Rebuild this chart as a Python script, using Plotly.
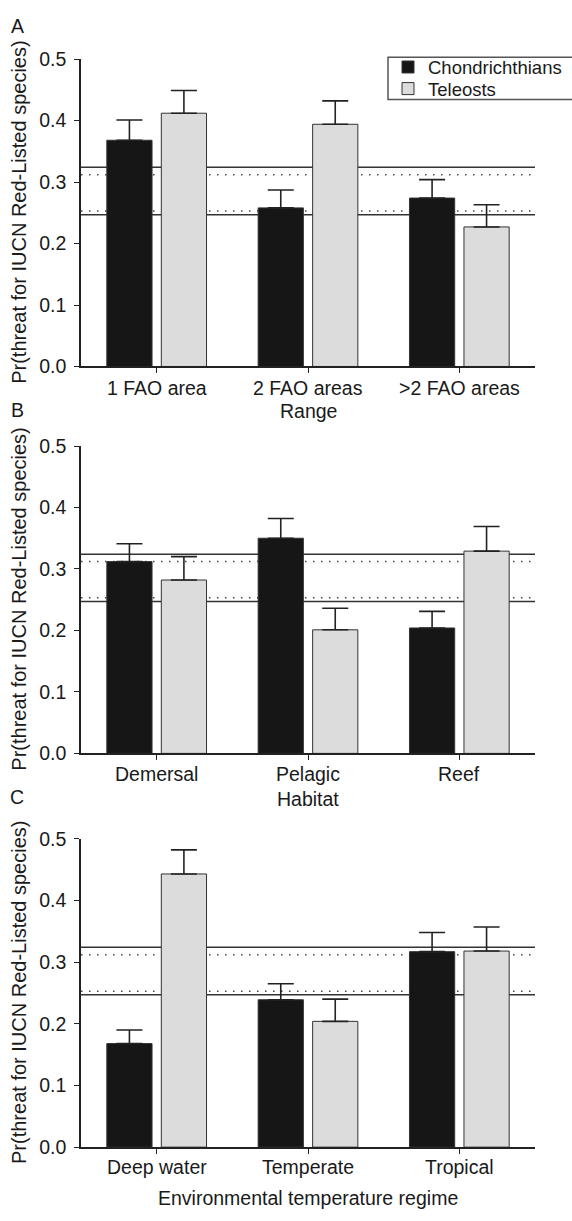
import plotly.graph_objects as go

# ---------------- data ----------------
range_cats = ["1 FAO area", "2 FAO areas", ">2 FAO areas"]
range_chond = [0.368, 0.258, 0.274]
range_chond_up = [0.401, 0.287, 0.304]
range_tele = [0.412, 0.394, 0.227]
range_tele_up = [0.449, 0.432, 0.263]

habitat_cats = ["Demersal", "Pelagic", "Reef"]
habitat_chond = [0.312, 0.350, 0.204]
habitat_chond_up = [0.341, 0.382, 0.231]
habitat_tele = [0.282, 0.201, 0.329]
habitat_tele_up = [0.320, 0.236, 0.369]

temp_cats = ["Deep water", "Temperate", "Tropical"]
temp_chond = [0.168, 0.239, 0.317]
temp_chond_up = [0.190, 0.265, 0.348]
temp_tele = [0.443, 0.204, 0.318]
temp_tele_up = [0.482, 0.240, 0.357]

ref_solid = [0.324, 0.247]
ref_dotted = [0.312, 0.253]

panel_letters = ["A", "B", "C"]
x_titles = ["Range", "Habitat", "Environmental temperature regime"]
y_title = "Pr(threat for IUCN Red-Listed species)"
y_ticks = [0.0, 0.1, 0.2, 0.3, 0.4, 0.5]
series_names = ["Chondrichthians", "Teleosts"]

# ---------------- layout constants ----------------
W, H = 572, 1221
FONT = "Liberation Sans, Arial, Helvetica, sans-serif"
FS = 19.5
TXT = "#1a1a1a"
BLACK_FILL = "#161616"
GRAY_FILL = "#dcdcdc"
EDGE = "#333333"

def px_x(x):
    return x / W

def px_y(y):
    return 1 - y / H

x_dom = [px_x(81), px_x(535)]
panel_px = [(49, 362), (443, 756), (843, 1157)]
tick_label_y = [384, 777, 1177]
title_y = [407.5, 802, 1209]
letter_y = [15, 406, 800]

panels = [
    (range_cats, range_chond, range_chond_up, range_tele, range_tele_up),
    (habitat_cats, habitat_chond, habitat_chond_up, habitat_tele, habitat_tele_up),
    (temp_cats, temp_chond, temp_chond_up, temp_tele, temp_tele_up),
]

fig = go.Figure()
layout_axes = {}
shapes = []
annotations = []

for i, (cats, ch, ch_up, te, te_up) in enumerate(panels):
    n = "" if i == 0 else str(i + 1)
    xa, ya = "x" + n, "y" + n
    fig.add_trace(go.Bar(
        x=cats, y=ch, name=series_names[0], xaxis=xa, yaxis=ya,
        marker=dict(color=BLACK_FILL, line=dict(color=EDGE, width=1)),
        error_y=dict(type="data", symmetric=False,
                     array=[u - v for u, v in zip(ch_up, ch)],
                     arrayminus=[0] * len(ch),
                     color="#222222", thickness=1.6, width=13),
        showlegend=(i == 0), legend="legend", offsetgroup="c",
    ))
    fig.add_trace(go.Bar(
        x=cats, y=te, name=series_names[1], xaxis=xa, yaxis=ya,
        marker=dict(color=GRAY_FILL, line=dict(color=EDGE, width=1)),
        error_y=dict(type="data", symmetric=False,
                     array=[u - v for u, v in zip(te_up, te)],
                     arrayminus=[0] * len(te),
                     color="#222222", thickness=1.6, width=13),
        showlegend=(i == 0), legend="legend2", offsetgroup="t",
    ))

    top, bot = panel_px[i]
    layout_axes["xaxis" + n] = dict(
        domain=x_dom, anchor=ya, type="category", range=[-0.5, 2.5],
        showline=True, linecolor="#222222", linewidth=1.5,
        ticks="outside", ticklen=5, tickwidth=1.2, tickcolor="#222222",
        showgrid=False, zeroline=False, showticklabels=False,
        fixedrange=True,
    )
    layout_axes["yaxis" + n] = dict(
        domain=[px_y(bot), px_y(top)], anchor=xa, range=[0, 0.5],
        tickvals=y_ticks, ticktext=["%.1f" % v for v in y_ticks],
        showline=True, linecolor="#222222", linewidth=1.5,
        ticks="outside", ticklen=5, tickwidth=1.2, tickcolor="#222222",
        ticklabelstandoff=4,
        showgrid=False, zeroline=False,
        tickfont=dict(family=FONT, size=FS, color=TXT),
        fixedrange=True,
    )

    # reference band lines behind the bars
    for v in ref_solid:
        shapes.append(dict(type="line", xref=xa + " domain", yref=ya,
                           x0=0, x1=1, y0=v, y1=v, layer="below",
                           line=dict(color="#333333", width=1.5)))
    for v in ref_dotted:
        shapes.append(dict(type="line", xref=xa + " domain", yref=ya,
                           x0=0, x1=1, y0=v, y1=v, layer="below",
                           line=dict(color="#444444", width=1.5, dash="1.5px,6.5px")))

    # category tick labels
    for k, c in enumerate(cats):
        annotations.append(dict(
            x=k, y=px_y(tick_label_y[i]), xref=xa, yref="paper",
            text=c, showarrow=False, xanchor="center", yanchor="middle",
            font=dict(family=FONT, size=FS, color=TXT)))

    # x title
    annotations.append(dict(
        x=(x_dom[0] + x_dom[1]) / 2, y=px_y(title_y[i]), xref="paper", yref="paper",
        text=x_titles[i], showarrow=False, xanchor="center", yanchor="middle",
        font=dict(family=FONT, size=FS, color=TXT)))

    # y title
    annotations.append(dict(
        x=px_x(19), y=px_y((top + bot) / 2), xref="paper", yref="paper",
        text=y_title, textangle=-90, showarrow=False,
        xanchor="center", yanchor="middle",
        font=dict(family=FONT, size=20, color=TXT)))

    # panel letter
    annotations.append(dict(
        x=px_x(17), y=px_y(letter_y[i]), xref="paper", yref="paper",
        text=panel_letters[i], showarrow=False, xanchor="center", yanchor="middle",
        font=dict(family=FONT, size=FS, color=TXT)))

# legend frame (the two legend rows sit inside it, tighter than one legend allows)
shapes.append(dict(type="rect", xref="paper", yref="paper",
                   x0=px_x(388), x1=1.05, y0=px_y(90), y1=px_y(47),
                   layer="above", fillcolor="rgba(0,0,0,0)",
                   line=dict(color="#555555", width=1.5)))

leg_common = dict(xanchor="left", yanchor="middle", bgcolor="rgba(255,255,255,0)",
                  borderwidth=0, font=dict(family=FONT, size=18.5, color=TXT),
                  itemwidth=30)

fig.update_layout(
    width=W, height=H,
    margin=dict(l=0, r=0, t=0, b=0),
    paper_bgcolor="white", plot_bgcolor="white",
    barmode="group", bargap=0.28, bargroupgap=0.17,
    font=dict(family=FONT, size=FS, color=TXT),
    shapes=shapes, annotations=annotations,
    legend=dict(x=px_x(388), y=px_y(57.5), **leg_common),
    legend2=dict(x=px_x(388), y=px_y(79.5), **leg_common),
    **layout_axes,
)

fig.write_html("out.html")
